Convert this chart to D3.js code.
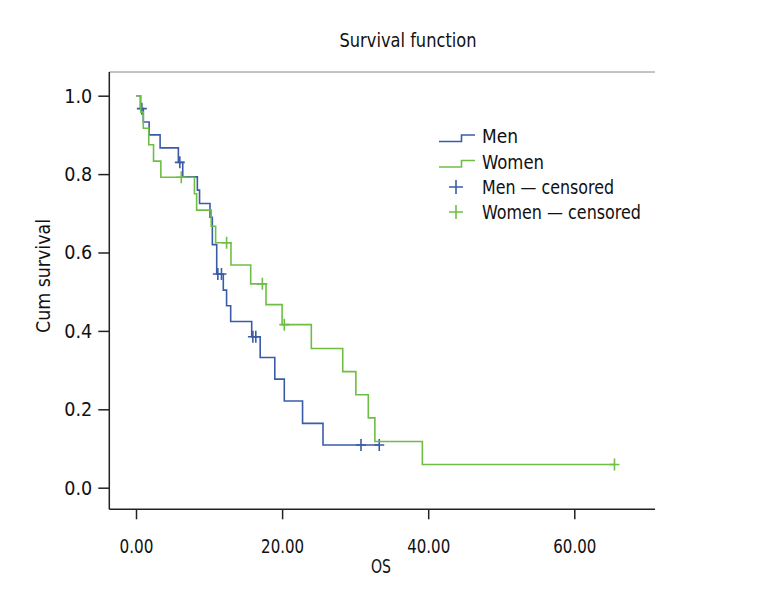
<!DOCTYPE html>
<html>
<head>
<meta charset="utf-8">
<script src="https://cdn.jsdelivr.net/npm/d3@7"></script>
<style>
  html, body { margin: 0; padding: 0; background: #fff; }
  svg text { font-family: 'Liberation Sans Narrow', 'DejaVu Sans Condensed', 'DejaVu Sans', sans-serif; fill: #111; }
</style>
</head>
<body>
<svg id="chart" width="768" height="600"></svg>
<script>
// ---- data ----
const menTimes    = [0, 0.6, 1.0, 1.8, 3.3, 5.8, 6.4, 8.4, 8.7, 10.13, 10.45, 11.05, 11.95, 12.4, 12.96, 15.84, 17.0, 19.0, 20.3, 22.8, 25.6, 33.3];
const menSurv     = [1.0, 0.967, 0.933, 0.9, 0.867, 0.83, 0.793, 0.759, 0.725, 0.69, 0.62, 0.545, 0.504, 0.464, 0.424, 0.385, 0.332, 0.277, 0.221, 0.164, 0.109, 0.109];
const menCensTimes = [0.8, 6.0, 11.2, 11.7, 16.0, 16.4, 30.8, 33.3];
const menCensSurv  = [0.967, 0.83, 0.545, 0.545, 0.385, 0.385, 0.109, 0.109];

const womenTimes  = [0, 0.65, 1.0, 1.75, 2.4, 3.4, 8.0, 8.3, 10.3, 10.9, 13.0, 15.7, 17.8, 20.0, 24.0, 28.3, 30.1, 31.8, 32.7, 39.2, 65.5];
const womenSurv   = [1.0, 0.958, 0.917, 0.875, 0.833, 0.792, 0.75, 0.708, 0.667, 0.625, 0.568, 0.52, 0.467, 0.416, 0.355, 0.296, 0.237, 0.178, 0.118, 0.059, 0.059];
const womenCensTimes = [6.2, 12.4, 17.3, 20.3, 65.5];
const womenCensSurv  = [0.792, 0.625, 0.52, 0.416, 0.059];

const xTicks = [0, 20, 40, 60];
const yTicks = [0, 0.2, 0.4, 0.6, 0.8, 1.0];
const legendLabels = ["Men", "Women", "Men \u2014 censored", "Women \u2014 censored"];
const titleText = "Survival function";
const xTitle = "OS";
const yTitle = "Cum survival";

// ---- layout ----
const BLUE = "#3a5ca8", GREEN = "#6fbe44";
const svg = d3.select("#chart");
const x = d3.scaleLinear().domain([0, 60]).range([136, 574.3]);
const y = d3.scaleLinear().domain([0, 1]).range([487.7, 95.7]);
const axisLeftX = 109.3, axisBottomY = 509.3, axisTopY = 72, axisRightX = 655;

// condense text horizontally to a target width (reference uses a condensed face)
function fit(sel, w) {
  sel.attr("textLength", w).attr("lengthAdjust", "spacingAndGlyphs");
}

// title
svg.append("text").attr("x", 408).attr("y", 47).attr("text-anchor", "middle")
  .style("font-size", "20px").text(titleText).call(fit, 137);

// top frame line
svg.append("line").attr("x1", axisLeftX).attr("x2", axisRightX).attr("y1", axisTopY).attr("y2", axisTopY)
  .attr("stroke", "#888").attr("stroke-width", 1);

// x axis
const gx = svg.append("g").attr("transform", `translate(0,${axisBottomY})`)
  .call(d3.axisBottom(x).tickValues(xTicks).tickFormat(d3.format(".2f")).tickSizeInner(10).tickSizeOuter(0).tickPadding(20));
gx.select(".domain").remove();
gx.selectAll(".tick line").attr("stroke", "#222").attr("stroke-width", 1.5);
gx.selectAll(".tick text").style("font-size", "20px").attr("fill", "#111")
  .each(function(d) { d3.select(this).call(fit, d === 0 ? 34 : 43); });
svg.append("line").attr("x1", axisLeftX).attr("x2", axisRightX).attr("y1", axisBottomY).attr("y2", axisBottomY)
  .attr("stroke", "#222").attr("stroke-width", 1.5);

// y axis
const gy = svg.append("g").attr("transform", `translate(${axisLeftX},0)`)
  .call(d3.axisLeft(y).tickValues(yTicks).tickFormat(d3.format(".1f")).tickSizeInner(11).tickSizeOuter(0).tickPadding(6));
gy.select(".domain").remove();
gy.selectAll(".tick line").attr("stroke", "#222").attr("stroke-width", 1.5);
gy.selectAll(".tick text").style("font-size", "20px").attr("fill", "#111").call(fit, 28);
svg.append("line").attr("x1", axisLeftX).attr("x2", axisLeftX).attr("y1", axisTopY).attr("y2", axisBottomY)
  .attr("stroke", "#222").attr("stroke-width", 1.5);

// axis titles
svg.append("text").attr("x", 381).attr("y", 573).attr("text-anchor", "middle")
  .style("font-size", "20px").text(xTitle).call(fit, 20);
svg.append("text").attr("transform", "translate(50,276) rotate(-90)").attr("text-anchor", "middle")
  .style("font-size", "20px").text(yTitle).call(fit, 114);

// curves
const line = d3.line().x(d => x(d[0])).y(d => y(d[1])).curve(d3.curveStepAfter);
function drawSeries(times, surv, ct, cs, color) {
  const pts = times.map((t, i) => [t, surv[i]]);
  svg.append("path").datum(pts).attr("d", line).attr("fill", "none")
    .attr("stroke", color).attr("stroke-width", 1.6);
  const cpts = ct.map((t, i) => [t, cs[i]]);
  const g = svg.append("g");
  g.selectAll("path").data(cpts).enter().append("path")
    .attr("d", d => { const cx = x(d[0]), cy = y(d[1]); return `M${cx - 5},${cy}H${cx + 5}M${cx},${cy - 6}V${cy + 6}`; })
    .attr("stroke", color).attr("stroke-width", 1.6).attr("fill", "none");
}
drawSeries(menTimes, menSurv, menCensTimes, menCensSurv, BLUE);
drawSeries(womenTimes, womenSurv, womenCensTimes, womenCensSurv, GREEN);

// legend
const lg = svg.append("g");
const legColors = [BLUE, GREEN, BLUE, GREEN];
const legY = [136, 161.5, 187, 212];
const legW = [36, 62, 132, 159];
legendLabels.forEach((lab, i) => {
  const cy = legY[i];
  if (i < 2) {
    lg.append("path").attr("d", `M439,${cy + 5.5}H461.5V${cy - 1}H475`).attr("fill", "none")
      .attr("stroke", legColors[i]).attr("stroke-width", 1.6);
  } else {
    lg.append("path").attr("d", `M449,${cy}H463M456,${cy - 7}V${cy + 7}`).attr("fill", "none")
      .attr("stroke", legColors[i]).attr("stroke-width", 1.6);
  }
  lg.append("text").attr("x", 482).attr("y", cy).attr("dy", "0.35em")
    .style("font-size", "20px").text(lab).call(fit, legW[i]);
});
</script>
</body>
</html>
